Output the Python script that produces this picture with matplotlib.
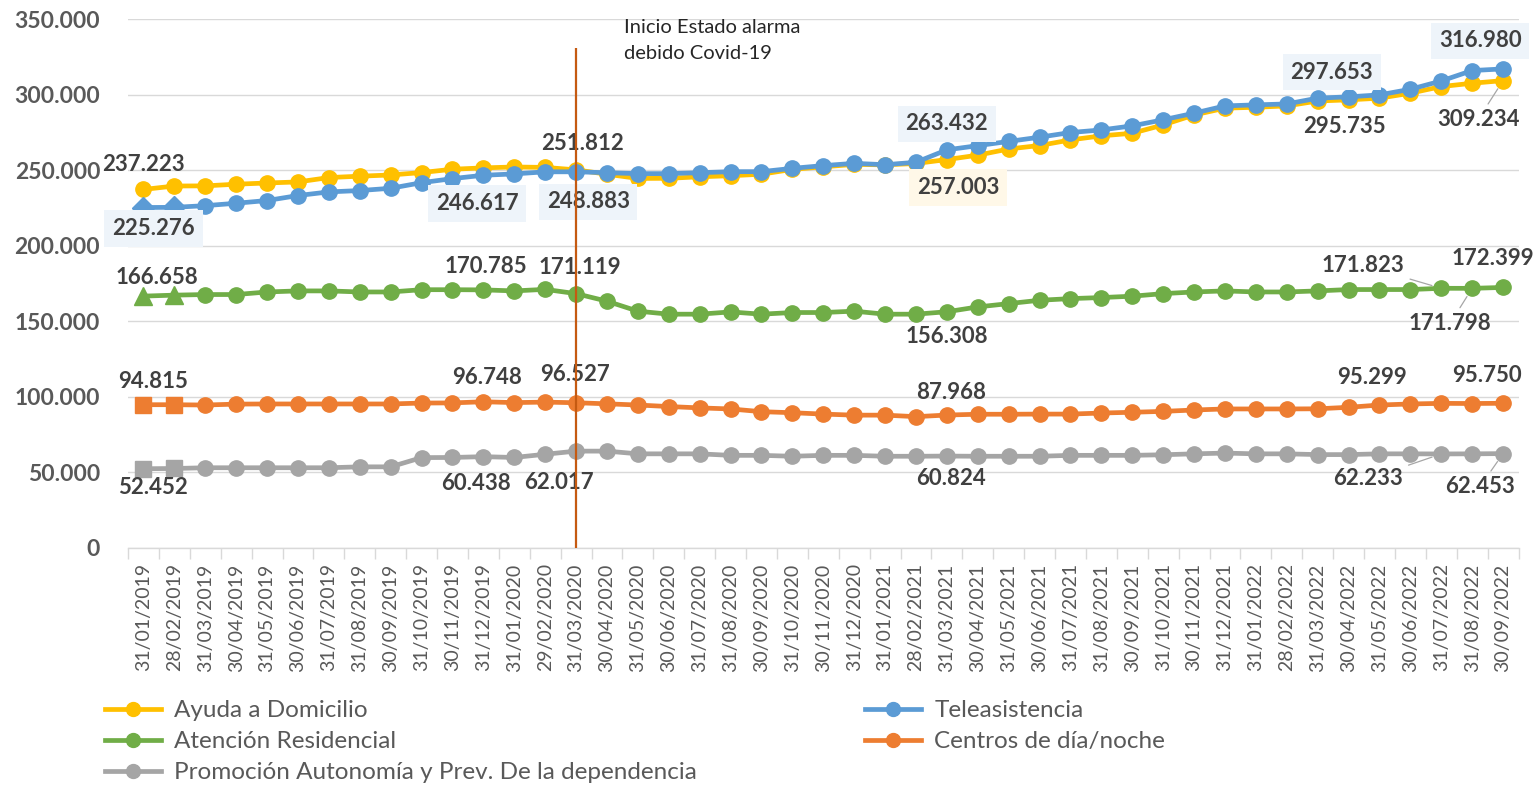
import matplotlib
matplotlib.use("Agg")
import matplotlib.pyplot as plt
from matplotlib.ticker import FuncFormatter, MultipleLocator, FixedLocator
from matplotlib.lines import Line2D

plt.rcParams['font.family'] = ['Lato', 'DejaVu Sans']

# ---------------- data ----------------
dates = ["31/01/2019", "28/02/2019", "31/03/2019", "30/04/2019", "31/05/2019", "30/06/2019",
         "31/07/2019", "31/08/2019", "30/09/2019", "31/10/2019", "30/11/2019", "31/12/2019",
         "31/01/2020", "29/02/2020", "31/03/2020", "30/04/2020", "31/05/2020", "30/06/2020",
         "31/07/2020", "31/08/2020", "30/09/2020", "31/10/2020", "30/11/2020", "31/12/2020",
         "31/01/2021", "28/02/2021", "31/03/2021", "30/04/2021", "31/05/2021", "30/06/2021",
         "31/07/2021", "31/08/2021", "30/09/2021", "31/10/2021", "30/11/2021", "31/12/2021",
         "31/01/2022", "28/02/2022", "31/03/2022", "30/04/2022", "31/05/2022", "30/06/2022",
         "31/07/2022", "31/08/2022", "30/09/2022"]

ayuda = [237223, 239500, 239600, 240700, 241500, 242200, 245100, 246000, 246800, 248400,
         250600, 251500, 252100, 251812, 250200, 247300, 244500, 244600, 245600, 246300,
         247300, 250500, 252200, 253800, 253500, 254400, 257003, 259900, 264000, 266300,
         270000, 272700, 274400, 279900, 286500, 291000, 291600, 292500, 295735, 296500,
         297600, 300900, 305300, 307500, 309234]

teleasistencia = [225276, 225400, 226500, 228100, 229900, 233200, 235600, 236500, 238000, 241700,
                  244400, 246617, 247500, 248883, 248900, 248300, 247700, 247700, 248300, 249000,
                  249000, 251200, 253000, 254500, 253600, 255200, 263432, 266200, 269000, 271800,
                  274900, 276600, 279300, 283300, 287700, 292500, 293200, 293800, 297653, 298500,
                  299800, 303500, 309000, 315900, 316980]

residencial = [166658, 167300, 167700, 167700, 169400, 170100, 170100, 169400, 169400, 170900,
               170900, 170785, 170100, 171119, 168300, 163300, 156700, 154700, 154700, 156200,
               154700, 155800, 155800, 156700, 154700, 154700, 156308, 159500, 161700, 163900,
               165000, 165700, 166600, 168300, 169400, 170100, 169400, 169400, 170100, 171000,
               171000, 171000, 171823, 171798, 172399]

centros = [94815, 94800, 94600, 95200, 95300, 95300, 95300, 95300, 95300, 95900,
           96000, 96748, 96200, 96527, 96100, 95400, 94600, 93600, 92700, 92000,
           90200, 89500, 88600, 87900, 87900, 86900, 87968, 88500, 88500, 88600,
           88600, 89300, 89800, 90400, 91300, 92000, 92000, 92000, 92100, 93100,
           94600, 95299, 95700, 95600, 95750]

promocion = [52452, 52600, 53100, 53100, 53100, 53100, 53100, 53700, 53700, 59800,
             59900, 60438, 59900, 62017, 64100, 64100, 62300, 62300, 62300, 61300,
             61300, 60700, 61300, 61300, 60700, 60700, 60824, 60700, 60700, 60700,
             61300, 61300, 61300, 61700, 62300, 62800, 62300, 62300, 61800, 61800,
             62300, 62300, 62233, 62300, 62453]

series_names = ["Ayuda a Domicilio", "Teleasistencia", "Atención Residencial",
                "Centros de día/noche", "Promoción Autonomía y Prev. De la dependencia"]
series_values = [ayuda, teleasistencia, residencial, centros, promocion]
series_colors = ["#FFC000", "#5B9BD5", "#70AD47", "#ED7D31", "#A5A5A5"]
first_markers = ["o", "D", "^", "s", "s"]

alarm_index = 14
alarm_top = 330500
alarm_text = "Inicio Estado alarma\ndebido Covid-19"

# data-label styling: (index, dx px, dy px, box fill, leader line)
BLUE_BOX = "#EEF4FA"
YEL_BOX = "#FFF8E8"
label_specs = [
    [(0, 0, 25, None, False), (13, 37, 24, None, False), (26, 11, -28, YEL_BOX, False),
     (38, 27, -25, None, False), (44, -25, -39, None, True)],
    [(0, 10, -21, BLUE_BOX, False), (11, -6, -28, BLUE_BOX, False), (13, 43, -30, BLUE_BOX, False),
     (26, 0, 26, BLUE_BOX, False), (38, 14, 26, BLUE_BOX, False), (44, -23, 28, BLUE_BOX, False)],
    [(0, 13, 19, None, False), (11, 2, 23, None, False), (13, 35, 22, None, False),
     (26, 0, -25, None, False), (42, -78, 23, None, True), (43, -22, -35, None, True),
     (44, -10, 29, None, False)],
    [(0, 10, 23, None, False), (11, 4, 24, None, False), (13, 30, 28, None, False),
     (26, 4, 23, None, False), (41, -38, 26, None, False), (44, -16, 28, None, False)],
    [(0, 9, -19, None, False), (11, -7, -27, None, False), (13, 14, -28, None, False),
     (26, 4, -22, None, False), (42, -73, -25, None, True), (44, -23, -33, None, True)],
]


def fmt(v):
    return f"{v:,.0f}".replace(",", ".")


W, H = 1540, 785
fig = plt.figure(figsize=(W / 100, H / 100), dpi=100)
ax = fig.add_axes([128 / W, 237 / H, (1518.5 - 128) / W, 529 / H])

x = list(range(len(dates)))
for k, (name, vals, col, fm) in enumerate(zip(series_names, series_values, series_colors, first_markers)):
    ax.plot(x, vals, color=col, lw=3.4, marker="o", ms=11, markevery=list(range(2, len(x))),
            solid_capstyle="round", zorder=3 + k * 0.1)
    ax.plot(x[:2], vals[:2], ls="none", marker=fm, ms=11 if fm != "^" else 12.5,
            color=col, zorder=3 + k * 0.1)
    for (i, dx, dy, box, leader) in label_specs[k]:
        kw = {}
        if box:
            kw["bbox"] = dict(boxstyle="square,pad=0.35", fc=box, ec="none")
        if leader:
            kw["arrowprops"] = dict(arrowstyle="-", color="#A6A6A6", lw=0.9,
                                    shrinkA=2, shrinkB=7)
        ax.annotate(fmt(vals[i]), xy=(i, vals[i]), xytext=(dx, dy), textcoords="offset pixels",
                    ha="center", va="center", fontsize=16, fontweight="bold", color="#404040",
                    zorder=5, **kw)

# alarm line and text
ax.vlines(alarm_index, 0, alarm_top, color="#C55A11", lw=1.6, zorder=8)
fig.text(624 / W, 1 - 19 / H, alarm_text, ha="left", va="top", fontsize=14.5,
         color="#262626", linespacing=1.65)

# axes styling
ax.set_xlim(-0.5, len(dates) - 0.5)
ax.set_ylim(0, 350000)
ax.yaxis.set_major_locator(MultipleLocator(50000))
ax.yaxis.set_major_formatter(FuncFormatter(lambda v, p: fmt(v)))
ax.grid(axis="y", color="#D9D9D9", lw=1)
ax.set_axisbelow(True)
for s in ["top", "right", "left"]:
    ax.spines[s].set_visible(False)
ax.spines["bottom"].set_color("#D9D9D9")
ax.spines["bottom"].set_linewidth(1)
ax.tick_params(axis="y", length=0, pad=20, labelsize=16.5, labelcolor="#595959")
for t in ax.get_yticklabels():
    t.set_fontweight("bold")
ax.set_xticks(x)
ax.set_xticklabels(dates, rotation=90, fontsize=14, color="#595959")
ax.tick_params(axis="x", which="major", length=0, pad=11)
ax.xaxis.set_minor_locator(FixedLocator([i - 0.5 for i in range(len(dates) + 1)]))
ax.tick_params(axis="x", which="minor", length=8, color="#D9D9D9", width=1)

# legend (Excel-like two columns)
def handle(col):
    return Line2D([0], [0], color=col, lw=3.4, marker="o", ms=10)

common = dict(frameon=False, fontsize=17.5, handlelength=2.3, handletextpad=0.55,
              labelspacing=0.42, borderpad=0, borderaxespad=0, loc="upper left",
              labelcolor="#595959")
fig.legend([handle(series_colors[i]) for i in (0, 2, 4)], [series_names[i] for i in (0, 2, 4)],
           bbox_to_anchor=(105 / W, 1 - 700 / H), **common)
fig.legend([handle(series_colors[i]) for i in (1, 3)], [series_names[i] for i in (1, 3)],
           bbox_to_anchor=(865 / W, 1 - 700 / H), **common)

fig.savefig("out.png", dpi=100)
